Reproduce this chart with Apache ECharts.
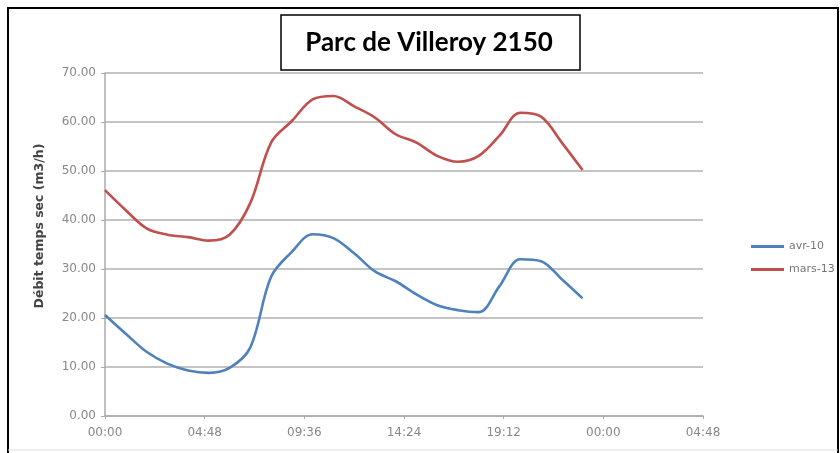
<!DOCTYPE html>
<html>
<head>
<meta charset="utf-8">
<script src="https://cdn.jsdelivr.net/npm/echarts@6/dist/echarts.min.js"></script>
<style>
html,body{margin:0;padding:0;background:#fff;}
#c{width:840px;height:453px;}
</style>
</head>
<body>
<div id="c"></div>
<script>
// Hours of the day (x values)
const hours = [0,1,2,3,4,5,6,7,8,9,10,11,12,13,14,15,16,17,18,19,20,21,22,23];
// Series values (m3/h)
const avr10  = [20.6,16.8,13.1,10.7,9.3,8.8,9.8,14.0,28.4,33.5,37.1,36.3,33.2,29.5,27.5,24.8,22.6,21.6,21.2,26.5,32.0,31.6,27.9,24.0];
const mars13 = [46.1,42.0,38.3,37.0,36.5,35.8,37.0,43.5,55.8,60.2,64.6,65.3,63.2,60.9,57.5,55.8,53.1,51.9,53.1,57.2,61.9,61.1,55.8,50.2];
const seriesNames = ['avr-10','mars-13'];
const titleText = 'Parc de Villeroy 2150';
const yAxisName = 'Débit temps sec (m3/h)';

function pairs(xs, ys){ return xs.map((x,i)=>[x, ys[i]]); }
function fmtTime(v){
  let totalMin = Math.round(v*60);
  totalMin = ((totalMin % 1440) + 1440) % 1440;
  const h = Math.floor(totalMin/60), m = totalMin % 60;
  return String(h).padStart(2,'0') + ':' + String(m).padStart(2,'0');
}

const chart = echarts.init(document.getElementById('c'), null, {renderer:'canvas'});
chart.setOption({
  backgroundColor:'#fff',
  animation:false,
  graphic:[
    {type:'polyline', shape:{points:[[8,453],[8,8],[838,8],[838,453]]}, style:{fill:'none', stroke:'#000', lineWidth:2}, z:-1},
    {type:'line', shape:{x1:8,y1:450,x2:838,y2:450}, style:{stroke:'#ddd', lineWidth:1}, z:-1},
    {type:'rect', shape:{x:281,y:15,width:299,height:55}, style:{fill:'#fff', stroke:'#000', lineWidth:1.5}, z:10},
    {type:'text', x:429, y:43, style:{text:titleText, fill:'#000', font:'bold 26px Lato, "Open Sans", sans-serif', textAlign:'center', textVerticalAlign:'middle'}, z:11},
    {type:'text', x:40, y:226, rotation:Math.PI/2, style:{text:yAxisName, fill:'#444', font:'bold 12.5px "DejaVu Sans", sans-serif', textAlign:'center', textVerticalAlign:'middle'}, z:11}
  ],
  grid:{left:105, right:137, top:73, bottom:37},
  legend:{
    orient:'vertical', left:746, top:236, itemWidth:33, itemHeight:3, itemGap:12,
    icon:'rect',
    textStyle:{color:'#777', fontSize:11, fontFamily:'"DejaVu Sans", sans-serif'},
    data:seriesNames
  },
  xAxis:{
    type:'value', min:0, max:28.8, interval:4.8,
    axisLine:{show:true, lineStyle:{color:'#aaa', width:1.5}},
    axisTick:{show:true, length:3, lineStyle:{color:'#aaa'}},
    splitLine:{show:false},
    axisLabel:{formatter:fmtTime, color:'#888', fontSize:12, margin:11, fontFamily:'"DejaVu Sans", sans-serif'}
  },
  yAxis:{
    type:'value', min:0, max:70, interval:10,
    axisLine:{show:true, lineStyle:{color:'#aaa', width:1.5}},
    axisTick:{show:true, length:4, lineStyle:{color:'#aaa'}},
    splitLine:{show:true, lineStyle:{color:'#c4c4c4', width:2}},
    axisLabel:{formatter:v=>v.toFixed(2), color:'#888', fontSize:12, margin:9, fontFamily:'"DejaVu Sans", sans-serif'}
  },
  series:[
    {name:seriesNames[0], type:'line', data:pairs(hours, avr10), smooth:0.35, symbol:'none',
     lineStyle:{color:'#4f81bd', width:2.6}, itemStyle:{color:'#4f81bd'}},
    {name:seriesNames[1], type:'line', data:pairs(hours, mars13), smooth:0.35, symbol:'none',
     lineStyle:{color:'#c0504d', width:2.6}, itemStyle:{color:'#c0504d'}}
  ]
});
</script>
</body>
</html>
